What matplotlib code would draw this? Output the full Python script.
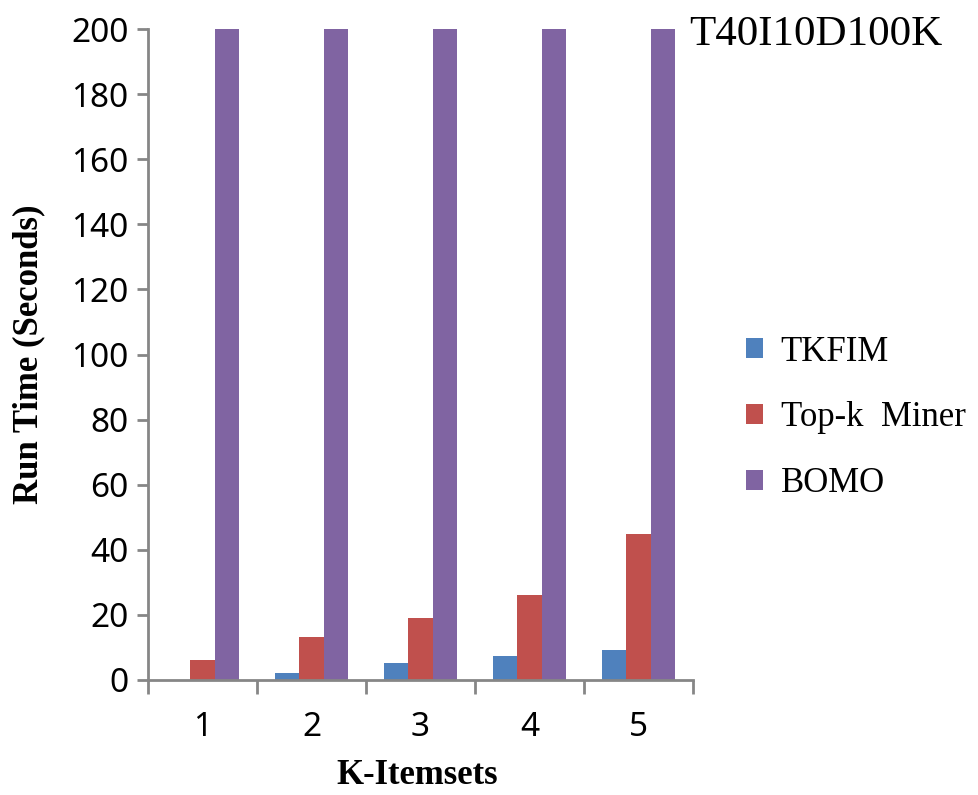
import matplotlib
matplotlib.use("Agg")
import matplotlib.pyplot as plt
import numpy as np

categories = ["1", "2", "3", "4", "5"]
series_names = ["TKFIM", "Top-k  Miner", "BOMO"]
tkfim = [0, 2.3, 5.1, 7.3, 9.2]
topk = [6, 13.1, 19, 26, 45]
bomo = [200, 200, 200, 200, 200]
colors = ["#4F81BD", "#C0504D", "#8064A2"]
yticks = [0, 20, 40, 60, 80, 100, 120, 140, 160, 180, 200]

fig = plt.figure(figsize=(9.79, 7.95), dpi=100)
ax = fig.add_axes([148/979, 1-680/795, (693-148)/979, (680-29)/795])

x = np.arange(1, len(categories) + 1)
w = 0.225
handles = []
for i, (vals, name, c) in enumerate(zip([tkfim, topk, bomo], series_names, colors)):
    h = ax.bar(x + (i - 1) * w, vals, width=w, color=c, label=name, zorder=2)
    handles.append(h)

ax.set_xlim(0.5, len(categories) + 0.5)
ax.set_ylim(0, 200)
ax.set_yticks(yticks)
ax.set_yticklabels([str(v) for v in yticks], fontfamily="Noto Sans", fontsize=24)
ax.set_xticks(np.arange(0.5, len(categories) + 1, 1.0))
ax.set_xticklabels([])
ax.set_xticks(x, minor=True)
ax.set_xticklabels(categories, minor=True, fontfamily="Noto Sans", fontsize=24)
ax.tick_params(axis="x", which="major", length=10, width=2, color="#868686", direction="out")
ax.tick_params(axis="x", which="minor", length=0, pad=22)
ax.tick_params(axis="y", length=8, width=2, color="#868686", direction="out", pad=6)

for s in ["top", "right"]:
    ax.spines[s].set_visible(False)
for s in ["left", "bottom"]:
    ax.spines[s].set_color("#868686")
    ax.spines[s].set_linewidth(2)

ax.set_ylabel("Run Time (Seconds)", fontfamily="Liberation Serif", fontweight="bold", fontsize=25)
ax.yaxis.set_label_coords(-0.188, 0.5)
fig.text(417/979, 1-775/795, "K-Itemsets", fontfamily="Liberation Serif", fontweight="bold",
         fontsize=25, ha="center", va="center")
fig.text(816/979, 1-35/795, "T40I10D100K", fontfamily="Liberation Serif", fontsize=31,
         ha="center", va="center")

leg = fig.legend(handles=handles, labels=series_names, loc="center left",
                 bbox_to_anchor=(746/979, 1-418/795), frameon=False,
                 borderpad=0, borderaxespad=0,
                 prop={"family": "Liberation Serif", "size": 25},
                 handlelength=0.5, handleheight=0.5, handletextpad=0.5, labelspacing=0.95)

fig.savefig("out.png", dpi=100)
